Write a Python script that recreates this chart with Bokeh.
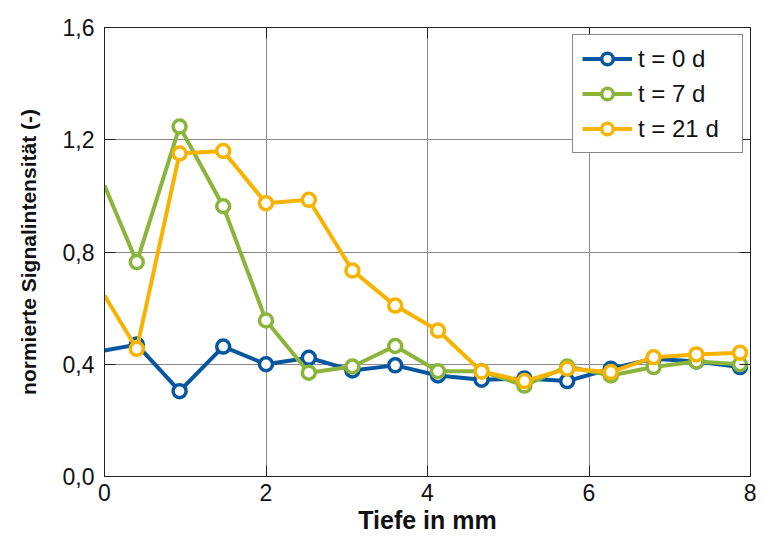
from bokeh.plotting import figure
from bokeh.models import (Range1d, FixedTicker, LinearAxis, CustomJSTickFormatter, Legend,
                          LegendItem, CustomLabelingPolicy)
from bokeh.embed import file_html
from bokeh.resources import INLINE

# Data
depth = [0.0, 0.4, 0.93, 1.47, 2.0, 2.53, 3.07, 3.6, 4.13, 4.67, 5.2, 5.73, 6.27, 6.8, 7.33, 7.87]
t0 = [0.449, 0.47, 0.304, 0.463, 0.40, 0.423, 0.378, 0.396, 0.36, 0.345, 0.349, 0.34, 0.384, 0.42, 0.41, 0.39]
t7 = [1.037, 0.764, 1.247, 0.963, 0.556, 0.37, 0.392, 0.465, 0.375, 0.375, 0.324, 0.392, 0.36, 0.39, 0.41, 0.40]
t21 = [0.645, 0.455, 1.151, 1.16, 0.974, 0.986, 0.734, 0.609, 0.52, 0.374, 0.34, 0.384, 0.372, 0.425, 0.435, 0.441]
series_names = ["t = 0 d", "t = 7 d", "t = 21 d"]
series_colors = ["#0656A0", "#8AB53A", "#F8B300"]
x_ticks = [0, 2, 4, 6, 8]
y_ticks = [0.0, 0.4, 0.8, 1.2, 1.6]

FONT = "Liberation Sans"
INK = "#111111"

p = figure(width=756, height=540, output_backend="svg", toolbar_location=None,
           x_range=Range1d(0, 8), y_range=Range1d(0, 1.6),
           min_border_left=104, min_border_right=6, min_border_top=27, min_border_bottom=64)
p.outline_line_color = "#222222"
p.outline_line_width = 1

fmt_y = CustomJSTickFormatter(code="return tick.toFixed(1).replace('.', ',');")
fmt_x = CustomJSTickFormatter(code="return tick.toFixed(0);")

for ax in [p.xaxis[0], p.yaxis[0]]:
    ax.major_tick_in = 11
    ax.major_tick_out = 0
    ax.minor_tick_in = 0
    ax.minor_tick_out = 0
    ax.axis_line_color = "#222222"
    ax.major_tick_line_color = "#222222"
    ax.major_label_text_font = FONT
    ax.major_label_text_font_size = "23px"
    ax.major_label_text_color = INK
    ax.axis_label_text_font = FONT
    ax.axis_label_text_font_style = "bold"
    ax.axis_label_text_color = INK

p.xaxis[0].ticker = FixedTicker(ticks=x_ticks)
p.yaxis[0].ticker = FixedTicker(ticks=y_ticks)
p.xaxis[0].formatter = fmt_x
p.yaxis[0].formatter = fmt_y
p.xaxis[0].axis_label = "Tiefe in mm"
p.yaxis[0].axis_label = "normierte Signalintensität (-)"
p.xaxis[0].axis_label_text_font_size = "25px"
p.yaxis[0].axis_label_text_font_size = "21px"
p.xaxis[0].major_label_standoff = 7
p.xaxis[0].axis_label_standoff = 2
p.yaxis[0].major_label_standoff = 10
p.yaxis[0].axis_label_standoff = 20

hide_all = CustomLabelingPolicy(code="const n = indices.size; for (let i = 0; i < n; i++) { indices.unset(i) } return indices;")

# box axes on top and right with inward ticks, no labels
top = LinearAxis(ticker=FixedTicker(ticks=x_ticks), major_label_policy=hide_all,
                 major_label_text_font_size="1px",
                 major_tick_in=11, major_tick_out=0, minor_tick_in=0, minor_tick_out=0,
                 axis_line_color="#222222", major_tick_line_color="#222222", major_label_standoff=0)
right = LinearAxis(ticker=FixedTicker(ticks=y_ticks), major_label_policy=hide_all,
                   major_label_text_font_size="1px",
                   major_tick_in=11, major_tick_out=0, minor_tick_in=0, minor_tick_out=0,
                   axis_line_color="#222222", major_tick_line_color="#222222", major_label_standoff=0)
p.add_layout(top, "above")
p.add_layout(right, "right")

p.xgrid.ticker = FixedTicker(ticks=x_ticks)
p.ygrid.ticker = FixedTicker(ticks=y_ticks)
for g in [p.xgrid[0], p.ygrid[0]]:
    g.grid_line_color = "#8a8a8a"
    g.grid_line_width = 1

items = []
for name, col, ys in zip(series_names, series_colors, [t0, t7, t21]):
    r_line = p.line(depth, ys, line_color=col, line_width=4)
    r_pts = p.scatter(depth[1:], ys[1:], marker="circle", size=13, fill_color="white",
                      line_color=col, line_width=3.5)
    items.append(LegendItem(label=name, renderers=[r_line, r_pts]))

legend = Legend(items=items, location="top_right")
legend.label_text_font = FONT
legend.label_text_font_size = "24px"
legend.label_text_color = INK
legend.border_line_color = INK
legend.border_line_width = 1
legend.background_fill_alpha = 1
legend.glyph_width = 50
legend.glyph_height = 29
legend.label_height = 29
legend.label_width = 95
legend.label_standoff = 6
legend.spacing = 6
legend.padding = 9
legend.margin = 7
p.add_layout(legend, "center")

open("out.html", "w").write(file_html(p, INLINE))
